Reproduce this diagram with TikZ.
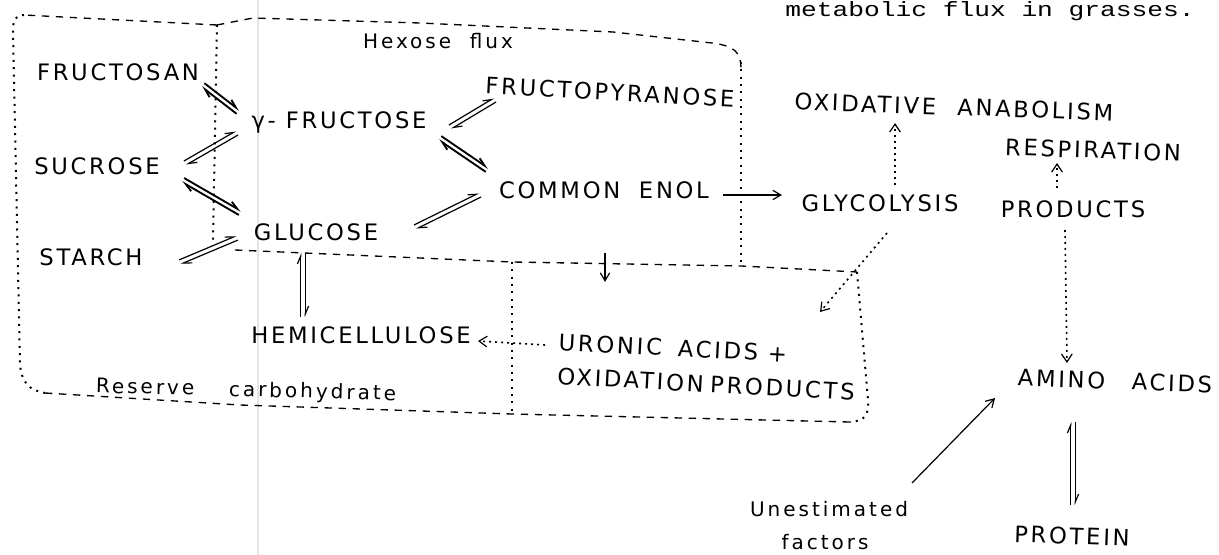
\documentclass[tikz,border=0pt]{standalone}
\usepackage{fontspec}
\setmainfont{DejaVu Sans}
\newfontfamily\labfont[LetterSpace=12]{DejaVu Sans}
\newfontfamily\handfont[LetterSpace=15]{DejaVu Sans}
\newfontfamily\typefont{Liberation Mono}
\usetikzlibrary{arrows.meta,calc}
\newcommand\eqpair[3][]{%
  \draw[eqline,#1,-{Straight Barb[left,length=6pt,width=5pt]}] ($(#2)!1.7pt!90:(#3)$) -- ($(#3)!1.7pt!-90:(#2)$);
  \draw[eqline,#1,-{Straight Barb[left,length=6pt,width=5pt]}] ($(#3)!1.7pt!90:(#2)$) -- ($(#2)!1.7pt!-90:(#3)$);
}
\begin{document}
\begin{tikzpicture}[x=0.75pt,y=-0.75pt,
  lbl/.style={font=\labfont\fontsize{17}{19}\selectfont, inner sep=0pt},
  hand/.style={font=\handfont\fontsize{15}{17}\selectfont, inner sep=0pt},
  eqline/.style={line width=0.9pt},
  boldeq/.style={line width=1.4pt},
  bdash/.style={line width=1pt, dash pattern=on 5.5pt off 5pt},
  bdot/.style={line width=1.5pt, dash pattern=on 1.5pt off 4pt},
  flow/.style={line width=0.9pt,-{Straight Barb[length=6pt,width=7pt]}},
  dflow/.style={line width=1.2pt, dash pattern=on 1.5pt off 3pt, -{Straight Barb[length=6pt,width=8pt,line width=0.9pt]}},
]
\useasboundingbox (0,0) rectangle (1219,555);
% faint fold of the scanned page
\draw[black!10, line width=0.8pt] (258,0) -- (258,555);

% title line
\node[font=\typefont\fontsize{15.5}{16}\selectfont, anchor=base west, inner sep=0pt] (title) at (785,17) {\scalebox{1.27}[1]{metabolic flux in grasses.}};

% labels
\node[lbl] (fructosan) at (118,72) {FRUCTOSAN};
\node[lbl] (gfru) at (339,122) {γ- FRUCTOSE};
\node[lbl] (sucrose) at (97,166) {SUCROSE};
\node[lbl] (glucose) at (316,232) {GLUCOSE};
\node[lbl] (starch) at (91,257) {STARCH};
\node[lbl, rotate=-3] (fpyr) at (610,92) {FRUCTOPYRANOSE};
\node[lbl] (cenol) at (604,190) {COMMON\hspace{14pt}ENOL};
\node[lbl] (glyc) at (880,203) {GLYCOLYSIS};
\node[lbl] (prod) at (1073,209) {PRODUCTS};
\node[lbl, rotate=-2] (oxana) at (954,107) {OXIDATIVE\hspace{16pt}ANABOLISM};
\node[lbl, rotate=-2] (resp) at (1093,150) {RESPIRATION};
\node[lbl] (hemi) at (361,335) {HEMICELLULOSE};
\node[lbl, rotate=-3] (uronic) at (673,348) {URONIC\hspace{12pt}ACIDS +};
\node[lbl, rotate=-3] (oxprod) at (706,384) {OXIDATION\hspace{5pt}PRODUCTS};
\node[lbl, rotate=-2] (amino) at (1115,381) {AMINO\hspace{20pt}ACIDS};
\node[lbl, rotate=-2] (protein) at (1072,536) {PROTEIN};
\node[hand] (unest) at (829,509) {Unestimated};
\node[hand] (factors) at (825,542) {factors};
\node[hand] (hexose) at (438,41) {Hexose\hspace{14pt}flux};
\node[hand, rotate=-1.5] (reserve) at (246,391) {Reserve\hspace{26pt}carbohydrate};

% boundaries
\draw[bdash] (217,25) -- (24,15);
\draw[bdot] (24,15) .. controls (15,15) and (13,20) .. (13,32) -- (20,365) .. controls (22,382) and (28,390) .. (45,393);
\draw[bdash] (45,393) -- (240,405) -- (512,414);
\draw[bdot] (217,25) -- (213,240);
\draw[bdash] (217,25) -- (253,18) -- (420,23) -- (613,32) -- (712,43) .. controls (735,46) and (741,52) .. (741,70);
\draw[bdot] (741,62) -- (741,265);
\draw[bdash] (235,250) -- (420,258) -- (512,262) -- (741,266) -- (857,272);
\draw[bdot] (512,262) -- (512,414);
\draw[bdot] (857,272) -- (868,400) .. controls (869,415) and (865,421) .. (850,422);
\draw[bdash] (850,422) -- (512,414);

% equilibrium arrows
\coordinate (f1) at ($(fructosan)+(85,13)$);
\coordinate (f2) at ($(gfru)+(-101,-10)$);
\coordinate (s1) at ($(gfru)+(-102,11)$);
\coordinate (s2) at ($(sucrose)+(88,-3)$);
\coordinate (g1) at ($(sucrose)+(86,14)$);
\coordinate (g2) at ($(glucose)+(-76,-19)$);
\coordinate (t1) at ($(glucose)+(-79,6)$);
\coordinate (t2) at ($(starch)+(89,5)$);
\coordinate (p1) at ($(gfru)+(111,5)$);
\coordinate (p2) at ($(fpyr)+(-115,8)$);
\coordinate (c1) at ($(gfru)+(101,16)$);
\coordinate (c2) at ($(cenol)+(-117,-20)$);
\coordinate (c3) at ($(cenol)+(-124,5)$);
\coordinate (c4) at ($(glucose)+(99,-5)$);
\coordinate (h1) at ($(glucose)+(-13,21)$);
\coordinate (h2) at ($(hemi)+(-58,-18)$);
\coordinate (a1) at ($(amino)+(-42,41)$);
\coordinate (a2) at ($(protein)+(1,-31)$);
\eqpair[boldeq]{f1}{f2}
\eqpair{s1}{s2}
\eqpair[boldeq]{g1}{g2}
\eqpair{t1}{t2}
\eqpair{p1}{p2}
\eqpair[boldeq]{c1}{c2}
\eqpair{c3}{c4}
\eqpair{h1}{h2}
\eqpair{a1}{a2}

% flow arrows
\coordinate (hexout) at (605,253);
\coordinate (uroin) at (605,282);
\coordinate (urotip) at ($(uronic)+(147,-36)$);
\draw[flow] ($(cenol)+(119,5)$) -- ($(glyc)+(-98,-8)$);
\draw[flow] (hexout) -- (uroin);
\draw[dflow] ($(glyc)+(15,-18)$) -- ($(oxana)+(-59,16)$);
\draw[dflow] ($(prod)+(-16,-21)$) -- ($(resp)+(-36,13)$);
\draw[dflow] ($(prod)+(-8,21)$) -- ($(amino)+(-48,-18)$);
\draw[dflow] ($(glyc)+(7,30)$) -- (urotip);
\draw[dflow] ($(uronic)+(-128,-3)$) -- ($(hemi)+(117,6)$);
\draw[flow] ($(unest)+(83,-26)$) -- ($(amino)+(-120,17)$);
\end{tikzpicture}
\end{document}
